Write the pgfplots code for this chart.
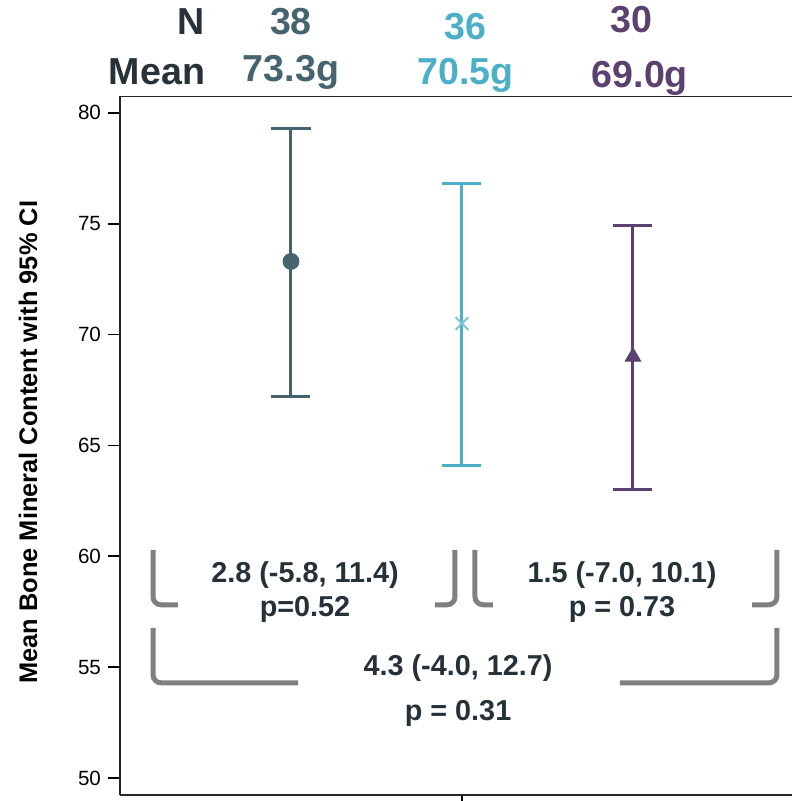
\documentclass[border=0pt]{standalone}
\usepackage{pgfplots}
\pgfplotsset{compat=1.18}
\usepackage{fontspec}
\setmainfont{Liberation Sans}

\definecolor{gA}{HTML}{46646F}
\definecolor{gB}{HTML}{4BAFC8}
\definecolor{gBl}{HTML}{7CC5D8}
\definecolor{gC}{HTML}{5B4170}
\definecolor{txt}{HTML}{263238}
\definecolor{brk}{HTML}{808080}

\begin{document}
\begin{tikzpicture}
\path[use as bounding box] (0,0) rectangle (396pt,400.5pt);
\begin{axis}[
    scale only axis,
    width=336pt, height=349.25pt,
    at={(60pt,3pt)}, anchor=south west,
    xmin=0, xmax=3.93,
    ymin=49.23, ymax=80.74,
    axis x line=box, axis y line=left,
    axis line style={black!85, line width=0.8pt, -},
    xtick={2}, xticklabels={},
    ytick={50,55,...,80},
    xtick pos=bottom, ytick pos=left,
    tick align=outside,
    major tick length=6pt,
    tick style={black, line width=0.8pt},
    /pgf/number format/assume math mode=true,
    yticklabel style={font=\fontsize{10.3}{12}\selectfont, black},
    ylabel={\bfseries Mean Bone Mineral Content with 95\% CI},
    every axis y label/.style={at={(axis description cs:-0.137,0.505)}, rotate=90, anchor=center, font=\fontsize{12.7}{15}\selectfont},
    clip=false,
]

% group 1
\addplot[only marks, mark=*, mark size=4pt, color=gA,
    error bars/.cd, y dir=both, y explicit,
    error bar style={line width=1.5pt, color=gA},
    error mark options={rotate=90, mark size=9.75pt, line width=1.5pt, color=gA}]
    coordinates {(1,73.3) += (0,6.0) -= (0,6.1)};

% group 2
\addplot[only marks, mark=x, mark size=4.5pt, color=gBl, mark options={line width=1pt},
    error bars/.cd, y dir=both, y explicit,
    error bar style={line width=1.5pt, color=gB},
    error mark options={rotate=90, mark size=9.75pt, line width=1.5pt, color=gB}]
    coordinates {(2,70.5) += (0,6.3) -= (0,6.4)};

% group 3
\addplot[only marks, mark=triangle*, mark size=4.5pt, color=gC,
    error bars/.cd, y dir=both, y explicit,
    error bar style={line width=1.5pt, color=gC},
    error mark options={rotate=90, mark size=9.75pt, line width=1.5pt, color=gC}]
    coordinates {(3,69.0) += (0,5.9) -= (0,6.0)};

% brackets
\addplot[brk, line width=2.5pt, rounded corners=4pt] coordinates {(0.193,60.29) (0.193,57.81) (0.339,57.81)};
\addplot[brk, line width=2.5pt, rounded corners=4pt] coordinates {(1.959,60.29) (1.959,57.81) (1.842,57.81)};
\addplot[brk, line width=2.5pt, rounded corners=4pt] coordinates {(2.076,60.29) (2.076,57.81) (2.181,57.81)};
\addplot[brk, line width=2.5pt, rounded corners=4pt] coordinates {(3.842,60.29) (3.842,57.81) (3.696,57.81)};
\addplot[brk, line width=2.5pt, rounded corners=4pt] coordinates {(0.193,56.77) (0.193,54.29) (1.041,54.29)};
\addplot[brk, line width=2.5pt, rounded corners=4pt] coordinates {(3.842,56.77) (3.842,54.29) (2.924,54.29)};

% comparison labels
\begin{scope}[every node/.style={font=\bfseries\fontsize{14.4}{17}\selectfont, text=txt}]
\node at (axis cs:1.082,59.16) {2.8 (-5.8, 11.4)};
\node at (axis cs:1.082,57.58) {p=0.52};
\node at (axis cs:2.936,59.16) {1.5 (-7.0, 10.1)};
\node at (axis cs:2.936,57.58) {p = 0.73};
\node at (axis cs:1.977,54.97) {4.3 (-4.0, 12.7)};
\node at (axis cs:1.977,52.90) {p = 0.31};
\end{scope}

% header
\begin{scope}[every node/.style={font=\bfseries\fontsize{18.8}{22}\selectfont, inner sep=0pt}]
\node[text=txt, anchor=east] at (axis cs:0.50,84.10) {N};
\node[text=txt, anchor=east] at (axis cs:0.50,81.85) {Mean};
\node[text=gA] at (axis cs:1.0,84.10) {38};
\node[text=gA] at (axis cs:1.0,81.85) {73.3g};
\node[text=gB] at (axis cs:2.02,83.88) {36};
\node[text=gB] at (axis cs:2.02,81.71) {70.5g};
\node[text=gC] at (axis cs:2.99,84.20) {30};
\node[text=gC] at (axis cs:3.04,81.58) {69.0g};
\end{scope}
\end{axis}
\end{tikzpicture}
\end{document}
